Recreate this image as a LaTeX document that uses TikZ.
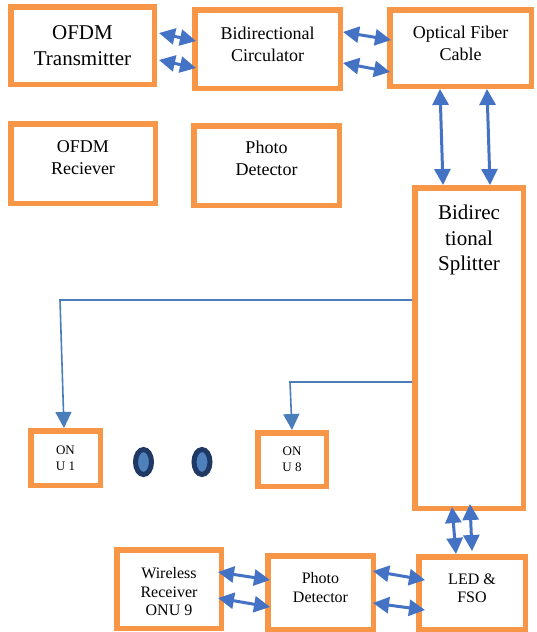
\documentclass[tikz,border=0pt]{standalone}
\usepackage{fontspec}
\setmainfont{Liberation Serif}
\usepackage{tikz}
\usetikzlibrary{arrows.meta, positioning, shapes.geometric}
\definecolor{cOrange}{HTML}{F79646}
\definecolor{cBlue}{HTML}{4472C4}
\definecolor{cLine}{HTML}{4A7EBB}
\definecolor{cNavy}{HTML}{1F3864}
\definecolor{cDot}{HTML}{4F81BD}

\begin{document}
\begin{tikzpicture}[x=1pt, y=-1pt,
  blk/.style={draw=cOrange, line width=5.5pt, fill=white, align=center, inner sep=0pt},
  fbig/.style={font=\fontsize{21}{25.5}\selectfont},
  fmid/.style={font=\fontsize{18}{22}\selectfont},
  fsml/.style={font=\fontsize{16}{18.5}\selectfont},
  ftiny/.style={font=\fontsize{13}{16}\selectfont},
  dbl/.style={{Triangle[length=16pt,width=16pt]}-{Triangle[length=16pt,width=16pt]}, line width=3pt, draw=cBlue},
  feed/.style={-{Triangle[length=16pt,width=16pt]}, line width=1.6pt, draw=cLine},
  dotmark/.style={ellipse, draw=cNavy, fill=cDot, line width=5pt, minimum width=16pt, minimum height=25pt, inner sep=0pt}]
  \useasboundingbox (0,0) rectangle (536,632);
  \fill[white] (0,0) rectangle (536,632);
  % Bloco superior
  \node[blk, fbig, minimum width=143.5pt, minimum height=77.5pt] (tx) at (82.5,45.5) {OFDM\\Transmitter};
  \node[blk, fmid, minimum width=145.5pt, minimum height=78.5pt, text depth=9pt] (circ) at (267.5,49) {Bidirectional\\Circulator};
  \node[blk, fmid, minimum width=141.5pt, minimum height=76.5pt, text depth=9pt] (fiber) at (460.5,48) {Optical Fiber\\Cable};
  \node[blk, fmid, minimum width=144.5pt, minimum height=79.5pt, text depth=12pt] (rx) at (83,163.5) {OFDM\\Reciever};
  \node[blk, fmid, minimum width=145.5pt, minimum height=79.5pt, text depth=14pt] (pd1) at (266.5,165.5) {Photo\\Detector};
  % Splitter e ONUs
  \node[blk, minimum width=108.5pt, minimum height=320.5pt] (split) at (469,348) {};
  \node[fbig, align=center, inner sep=0pt, below=20pt of split.north] (splittxt) {Bidirec\\tional\\Splitter};
  \node[blk, ftiny, minimum width=69.5pt, minimum height=54.5pt] (onu1) at (65.5,458) {ON\\U 1};
  \node[blk, ftiny, minimum width=68.5pt, minimum height=53.5pt] (onu8) at (292,459.5) {ON\\U 8};
  \node[dotmark] (dot1) at (143.5,462) {};
  \node[dotmark] (dot2) at (202,462) {};
  % Bloco inferior
  \node[blk, fsml, minimum width=104.5pt, minimum height=78.5pt, text height=54pt] (wrx) at (169,589) {Wireless\\Receiver\\ONU 9};
  \node[blk, fsml, minimum width=105.5pt, minimum height=73.5pt, text depth=10pt] (pd2) at (320.5,592.5) {Photo\\Detector};
  \node[blk, fsml, minimum width=106.5pt, minimum height=72.5pt, text depth=10pt] (led) at (472,593) {LED \&\\FSO};
  % Setas bidirecionais
  \draw[dbl] ([xshift=2pt,yshift=12.5pt]tx.east) -- ([xshift=4pt,yshift=8pt]circ.west);
  \draw[dbl] ([xshift=2pt,yshift=-14.5pt]tx.east) -- ([xshift=4pt,yshift=-19pt]circ.west);
  \draw[dbl] ([yshift=17pt]circ.east) -- ([xshift=4pt,yshift=8pt]fiber.west);
  \draw[dbl] ([yshift=-14pt]circ.east) -- ([xshift=3pt,yshift=-24pt]fiber.west);
  \draw[dbl] ([xshift=-20.5pt]fiber.south) -- ([xshift=-26pt]split.north);
  \draw[dbl] ([xshift=26.5pt]fiber.south) -- ([xshift=21pt]split.north);
  \draw[dbl] ([xshift=-17pt,yshift=4pt]split.south) -- ([xshift=-16pt]led.north);
  \draw[dbl] ([xshift=1pt,yshift=7pt]split.south) -- ([yshift=3pt]led.north);
  \draw[dbl] ([xshift=-6pt,yshift=17pt]wrx.east) -- ([xshift=5pt,yshift=12.5pt]pd2.west);
  \draw[dbl] ([xshift=-6pt,yshift=-9pt]wrx.east) -- ([xshift=5pt,yshift=-14.5pt]pd2.west);
  \draw[dbl] ([xshift=-3pt,yshift=21.5pt]pd2.east) -- ([xshift=9pt,yshift=13pt]led.west);
  \draw[dbl] ([xshift=-3pt,yshift=-10.5pt]pd2.east) -- ([xshift=9pt,yshift=-17pt]led.west);
  % Ramos do splitter
  \coordinate (k1) at (60,300);
  \coordinate (k8) at (290,382);
  \draw[feed] ([yshift=48pt]split.west) -- (k1) -- ([xshift=-1.5pt]onu1.north);
  \draw[feed] ([yshift=-34pt]split.west) -- (k8) -- (onu8.north);
\end{tikzpicture}
\end{document}
